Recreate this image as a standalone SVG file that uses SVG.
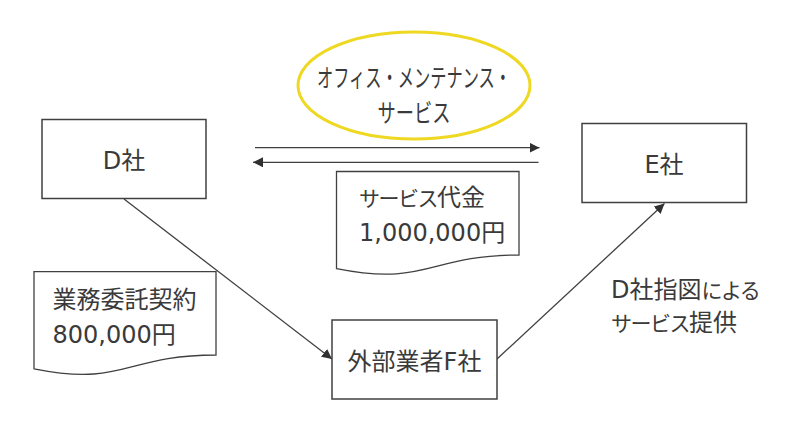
<svg xmlns="http://www.w3.org/2000/svg" width="787" height="431" viewBox="0 0 787 431">
<style>
  .box { fill: #ffffff; stroke: #404040; stroke-width: 1.5; }
  .doc { fill: #ffffff; stroke: #404040; stroke-width: 1.3; }
  .oval { fill: #ffffff; stroke: #EFD822; stroke-width: 3; }
  .conn { fill: none; stroke: #404040; stroke-width: 1.3; }
  text { font-family: "DejaVu Sans", "Noto Sans CJK JP", sans-serif; font-size: 24px; fill: #3a3a3a; }
  .mid { text-anchor: middle; }
  .kana { font-size: 21px; letter-spacing: -1.5px; }
  .ov { font-size: 25px; }
</style>
<defs>
  <marker id="arrow" viewBox="0 0 10 10" refX="10" refY="5" markerWidth="10" markerHeight="10" markerUnits="userSpaceOnUse" orient="auto">
    <path d="M0,0 L10,5 L0,10 Z" fill="#303030"/>
  </marker>
</defs>
<rect width="787" height="431" fill="#ffffff"/>

<g id="connectors">
  <line class="conn" x1="255" y1="147.7" x2="539.5" y2="147.7" marker-end="url(#arrow)"/>
  <line class="conn" x1="538.5" y1="162.3" x2="253" y2="162.3" marker-end="url(#arrow)"/>
  <line class="conn" x1="124" y1="199" x2="332" y2="359" marker-end="url(#arrow)"/>
  <line class="conn" x1="497" y1="359" x2="664.5" y2="203.5" marker-end="url(#arrow)"/>
</g>

<g id="node-service">
  <ellipse class="oval" cx="414" cy="85.5" rx="116" ry="53.5"/>
  <text class="ov" x="317" y="87" textLength="194" lengthAdjust="spacingAndGlyphs">オフィス・メンテナンス・</text>
  <text class="ov" x="377.5" y="121.5" textLength="73" lengthAdjust="spacingAndGlyphs">サービス</text>
</g>

<g id="node-D">
  <rect class="box" x="42" y="119.5" width="164" height="79"/>
  <text class="mid" x="124" y="168.5">D社</text>
</g>

<g id="node-E">
  <rect class="box" x="582" y="123.5" width="164.5" height="79"/>
  <text class="mid" x="664" y="172.5">E社</text>
</g>

<g id="node-F">
  <rect class="box" x="332" y="320" width="165" height="79"/>
  <text class="mid" x="414.5" y="370">外部業者F社</text>
</g>

<g id="node-fee">
  <path class="doc" d="M336.5,171.5 H519 V255 C427.75,255 427.75,286.7 336.5,268.6 Z"/>
  <text x="359" y="206"><tspan class="kana">サービス</tspan>代金</text>
  <text x="359" y="241">1,000,000円</text>
</g>

<g id="node-contract">
  <path class="doc" d="M34,271.7 H216 V355 C125,355 125,386.9 34,368.8 Z"/>
  <text x="52.5" y="308">業務委託契約</text>
  <text x="52.5" y="343">800,000円</text>
</g>

<g id="label-instruction">
  <text x="611" y="298">D社指図<tspan class="kana">による</tspan></text>
  <text x="611" y="331"><tspan class="kana">サービス</tspan>提供</text>
</g>
</svg>
